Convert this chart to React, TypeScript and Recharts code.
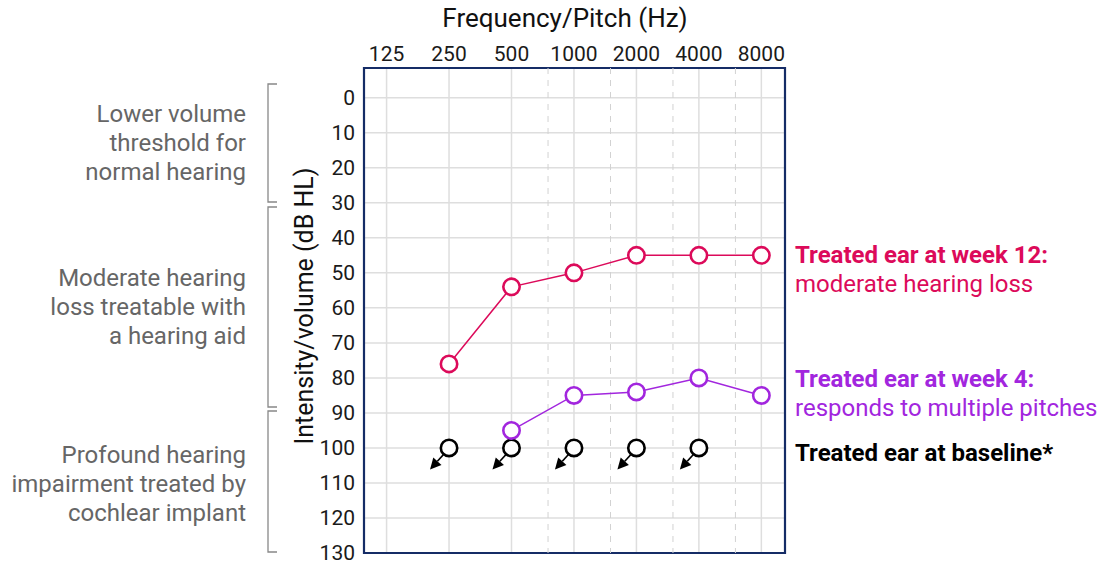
import React from 'react';
import { LineChart, Line, XAxis, YAxis, CartesianGrid, ReferenceLine, ReferenceArea } from 'recharts';

const frequencies = [250, 500, 1000, 2000, 4000, 8000];
const week12 = [76, 54, 50, 45, 45, 45];
const week4 = [null, 95, 85, 84, 80, 85];
const baseline = [100, 100, 100, 100, 100, null];
const xTicks = [125, 250, 500, 1000, 2000, 4000, 8000];
const xHalfTicks = [750, 1500, 3000, 6000];
const yTicks = [0, 10, 20, 30, 40, 50, 60, 70, 80, 90, 100, 110, 120, 130];

const data = frequencies.map((f, i) => ({ f, week12: week12[i], week4: week4[i], baseline: baseline[i] }));

const PINK = '#dc0a5a';
const PURPLE = '#a226de';
const NAVY = '#152c66';
const FONT = 'Roboto, "Noto Sans", sans-serif';
const X_DOMAIN: [number, number] = [97.3, 10400];
const Y_DOMAIN: [number, number] = [-8.5, 130];

const RingDot = (color: string) => (props: any) => {
  const { cx, cy, payload, dataKey } = props;
  if (cx == null || cy == null || payload[dataKey] == null) return null;
  return <circle key={`${dataKey}-${cx}`} cx={cx} cy={cy} r={8.2} fill="#fff" stroke={color} strokeWidth={2.6} />;
};

const BaselineDot = (props: any) => {
  const { cx, cy, payload } = props;
  if (cx == null || cy == null || payload.baseline == null) return null;
  const sx = cx - 5.5, sy = cy + 6.5;
  const tx = cx - 19, ty = cy + 21.5;
  const ang = Math.atan2(ty - sy, tx - sx);
  const L = 11, W = 5.5;
  const bx = tx - L * Math.cos(ang), by = ty - L * Math.sin(ang);
  const px = -Math.sin(ang) * W, py = Math.cos(ang) * W;
  return (
    <g key={`b-${cx}`}>
      <line x1={sx} y1={sy} x2={bx} y2={by} stroke="#000" strokeWidth={1.7} />
      <polygon points={`${tx},${ty} ${bx + px},${by + py} ${bx - px},${by - py}`} fill="#000" />
      <circle cx={cx} cy={cy} r={8.2} fill="#fff" stroke="#000" strokeWidth={2.6} />
    </g>
  );
};

const leftNotes = [
  { lines: ['Lower volume', 'threshold for', 'normal hearing'], y: 114 },
  { lines: ['Moderate hearing', 'loss treatable with', 'a hearing aid'], y: 278 },
  { lines: ['Profound hearing', 'impairment treated by', 'cochlear implant'], y: 455 },
];
const brackets = [
  [84, 202],
  [207, 407],
  [411, 552],
];

export default function App() {
  return (
    <div style={{ position: 'absolute', left: 0, top: 0, width: 1107, height: 566, background: '#fff', fontFamily: FONT }}>
      <LineChart width={1107} height={566} data={data} margin={{ top: 0, right: 322, bottom: 13, left: 0 }}>
        <CartesianGrid stroke="#dedede" strokeWidth={1.5} />
        {xHalfTicks.map((x) => (
          <ReferenceLine key={x} x={x} stroke="#d2d2d2" strokeWidth={1} strokeDasharray="6 6" />
        ))}
        <XAxis
          dataKey="f"
          type="number"
          scale="log"
          domain={X_DOMAIN}
          ticks={xTicks}
          orientation="top"
          height={68}
          axisLine={false}
          tickLine={false}
          tickSize={6}
          tickMargin={1}
          interval={0}
          allowDataOverflow
          tick={{ fill: '#1a1a1a', fontSize: 21, fontFamily: FONT }}
        />
        <YAxis
          type="number"
          reversed
          domain={Y_DOMAIN}
          ticks={yTicks}
          width={364}
          axisLine={false}
          tickLine={false}
          tickSize={6}
          tickMargin={3}
          interval={0}
          allowDataOverflow
          tick={{ fill: '#1a1a1a', fontSize: 21, fontFamily: FONT }}
        />
        <ReferenceArea x1={X_DOMAIN[0]} x2={X_DOMAIN[1]} y1={Y_DOMAIN[0]} y2={Y_DOMAIN[1]} fill="none" stroke={NAVY} strokeWidth={2.2} ifOverflow="visible" />
        <Line dataKey="baseline" stroke="none" dot={BaselineDot} activeDot={false} isAnimationActive={false} />
        <Line dataKey="week12" stroke={PINK} strokeWidth={1.5} dot={RingDot(PINK)} activeDot={false} isAnimationActive={false} />
        <Line dataKey="week4" stroke={PURPLE} strokeWidth={1.5} dot={RingDot(PURPLE)} activeDot={false} isAnimationActive={false} />
      </LineChart>
      <svg width={1107} height={566} style={{ position: 'absolute', left: 0, top: 0, pointerEvents: 'none' }}>
        <text x={565} y={18} textAnchor="middle" dominantBaseline="central" fontSize={26} fill="#111" fontFamily={FONT}>
          Frequency/Pitch (Hz)
        </text>
        <text
          x={304}
          y={306}
          textAnchor="middle"
          dominantBaseline="central"
          fontSize={25}
          fill="#111"
          fontFamily={FONT}
          transform="rotate(-90 304 306)"
        >
          Intensity/volume (dB HL)
        </text>
        {leftNotes.map((n, i) =>
          n.lines.map((l, j) => (
            <text key={`${i}-${j}`} x={246} y={n.y + j * 29} textAnchor="end" dominantBaseline="central" fontSize={24} fill="#666" fontFamily={FONT}>
              {l}
            </text>
          ))
        )}
        {brackets.map(([a, b], i) => (
          <path key={i} d={`M277,${a} L268,${a} L268,${b} L277,${b}`} fill="none" stroke="#888" strokeWidth={1.3} />
        ))}
        <text x={795} y={255} dominantBaseline="central" fontSize={24} fontWeight="bold" fill={PINK} fontFamily={FONT}>
          Treated ear at week 12:
        </text>
        <text x={795} y={284} dominantBaseline="central" fontSize={24} fill={PINK} fontFamily={FONT}>
          moderate hearing loss
        </text>
        <text x={795} y={379} dominantBaseline="central" fontSize={24} fontWeight="bold" fill={PURPLE} fontFamily={FONT}>
          Treated ear at week 4:
        </text>
        <text x={795} y={408} dominantBaseline="central" fontSize={24} fill={PURPLE} fontFamily={FONT}>
          responds to multiple pitches
        </text>
        <text x={795} y={453} dominantBaseline="central" fontSize={24} fontWeight="bold" fill="#000" fontFamily={FONT}>
          Treated ear at baseline*
        </text>
      </svg>
    </div>
  );
}
